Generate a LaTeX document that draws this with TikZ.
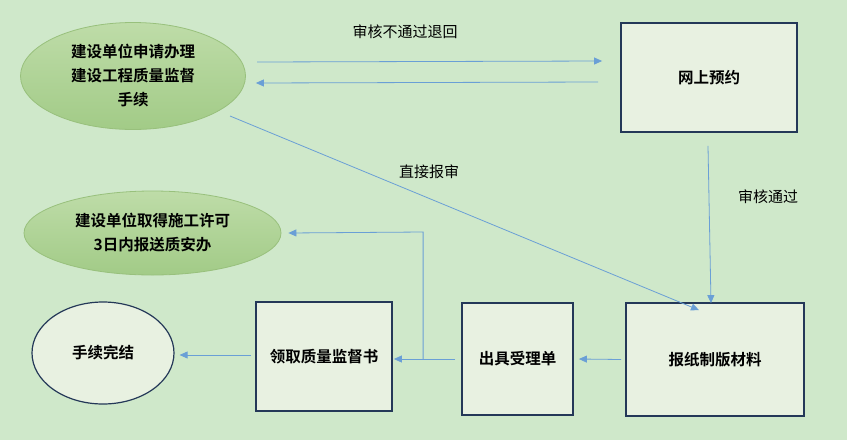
\documentclass[tikz,border=0pt]{standalone}
\usepackage{fontspec}
\setmainfont{Noto Sans CJK SC}
\newfontfamily\cjkb{Noto Sans CJK SC Bold}
\usetikzlibrary{shapes.geometric,arrows.meta,calc}
\definecolor{bgc}{HTML}{CFE8CA}
\definecolor{boxfill}{HTML}{E8F1E1}
\definecolor{boxline}{HTML}{243858}
\definecolor{linec}{HTML}{6A9FD6}
\definecolor{elltop}{HTML}{BEDCA8}
\definecolor{ellbot}{HTML}{A2CB87}
\definecolor{ellline}{HTML}{98C07C}
\tikzset{
  greenell/.style={ellipse,draw=ellline,line width=0.8pt,top color=elltop,bottom color=ellbot,inner sep=0pt,align=center,font=\cjkb\fontsize{15.5}{24}\selectfont},
  lightell/.style={ellipse,draw=boxline,line width=1.2pt,fill=boxfill,inner sep=0pt,align=center,font=\cjkb\fontsize{15.5}{24}\selectfont},
  stepbox/.style={rectangle,draw=boxline,line width=1.8pt,fill=boxfill,inner sep=0pt,align=center,font=\cjkb\fontsize{15.5}{20}\selectfont},
  arr/.style={draw=linec,line width=0.8pt,-{Triangle[length=8pt,width=7pt]},color=linec},
  ln/.style={draw=linec,line width=0.8pt},
  lbl/.style={inner sep=0pt,font=\fontsize{15}{17}\selectfont,text=black}
}
\begin{document}
\begin{tikzpicture}[x=1pt,y=-1pt]
\fill[bgc] (0,0) rectangle (847,440);
\useasboundingbox (0,0) rectangle (847,440);

\node[greenell,minimum width=225pt,minimum height=107pt] (e1) at (133,76) {建设单位申请办理\\建设工程质量监督\\手续};
\node[greenell,minimum width=257pt,minimum height=84pt] (e2) at (152.5,233) {建设单位取得施工许可\\3日内报送质安办};
\node[lightell,minimum width=142pt,minimum height=102pt] (e3) at (103,353) {手续完结};

\node[stepbox,minimum width=176pt,minimum height=109pt] (b1) at (709,77.5) {网上预约};
\node[stepbox,minimum width=178pt,minimum height=113pt] (b2) at (715,359.5) {报纸制版材料};
\node[stepbox,minimum width=111pt,minimum height=112pt] (b3) at (517.5,359) {出具受理单};
\node[stepbox,minimum width=136pt,minimum height=109pt] (b4) at (324,356.5) {领取质量监督书};

\node[lbl] (l1) at (405,32) {审核不通过退回};
\node[lbl] (l2) at (429,172) {直接报审};
\node[lbl] (l3) at (768,197) {审核通过};

\draw[arr] ($(e1.east)+(11.3,-14)$) -- ($(b1.west)+(-18,-16.5)$);
\draw[arr] ($(b1.west)+(-22,4.5)$) -- ($(e1.east)+(10,7)$);
\draw[arr] ($(e1.center)+(97,40)$) -- ($(b2.north)+(-16,8)$);
\draw[arr] ($(b1.south)+(-1,13)$) -- ($(b2.north)+(-4,1)$);
\draw[arr] ($(b2.west)+(-4,0)$) -- ($(b3.east)+(5,0)$);
\draw[arr] ($(b3.west)+(-6,0)$) -- ($(b4.east)+(1,2.5)$);
\coordinate (br) at ($(b3.west)+(-38,0)$);
\draw[arr] (br) -- ($(br)+(0,-127)$) -- ($(e2.east)+(7,0)$);
\draw[arr] ($(b4.west)+(-4,-1.5)$) -- ($(e3.east)+(5,2)$);
\end{tikzpicture}
\end{document}
